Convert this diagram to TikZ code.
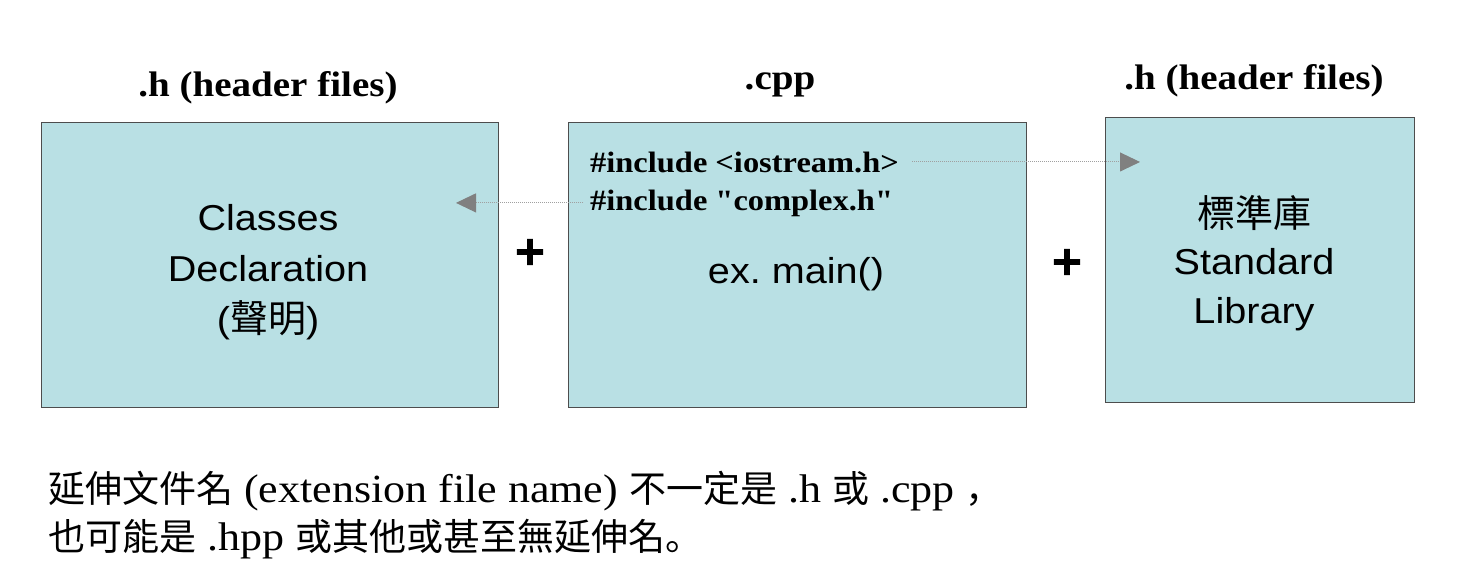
\documentclass[tikz,border=0pt]{standalone}
\usepackage{fontspec}
\usetikzlibrary{arrows.meta}
\setmainfont{Liberation Serif}[FakeStretch=1.1]
\newfontfamily\incf{Liberation Serif}[FakeStretch=1.1, Ligatures=TeXOff]
\newfontfamily\sansf{Liberation Sans}[FakeStretch=1.1]
\newfontfamily\cjk{Noto Sans CJK TC}
\newfontfamily\cjkp{Noto Sans CJK SC}
\newfontfamily\plusf{DejaVu Sans Bold}[FakeBold=2.5]
\definecolor{boxfill}{HTML}{B9E0E4}
\definecolor{boxline}{HTML}{4D4D4D}
\definecolor{dotgray}{HTML}{A0A0A0}
\definecolor{tipgray}{HTML}{808080}
\tikzset{
  filebox/.style={draw=boxline, line width=1.4pt, fill=boxfill, anchor=north west, inner sep=0pt},
  title/.style={anchor=base, inner sep=0pt, font=\fontsize{35.5}{40}\selectfont\bfseries},
  boxtxt/.style={anchor=base, inner sep=0pt, font=\sansf\fontsize{36}{40}\selectfont},
  cjkbox/.style={anchor=base, inner sep=0pt, font=\cjk\fontsize{38}{40}\selectfont},
  inctxt/.style={anchor=base west, inner sep=0pt, font=\incf\fontsize{29.5}{34}\selectfont\bfseries},
  plussign/.style={inner sep=0pt, font=\plusf\fontsize{40}{40}\selectfont},
  note/.style={anchor=base west, inner sep=0pt, font=\fontsize{40}{46}\selectfont},
  conn/.style={draw=dotgray, line width=1pt, dash pattern=on 1pt off 1pt,
    -{Triangle[length=20pt, width=19pt, color=tipgray]}},
}
\newcommand{\cj}[1]{{\cjk\fontsize{37}{46}\selectfont #1}}
\newcommand{\cjp}[1]{{\cjkp\fontsize{37}{46}\selectfont #1}}
\begin{document}
\frenchspacing
\begin{tikzpicture}[x=1pt, y=-1pt]
\useasboundingbox (0,0) rectangle (1484,578);

% boxes
\node[filebox, minimum width=457pt, minimum height=285pt] (hbox) at (41,122) {};
\node[filebox, minimum width=458pt, minimum height=285pt] (cbox) at (568,122) {};
\node[filebox, minimum width=309pt, minimum height=285pt] (lbox) at (1105,117) {};

% titles
\node[title] (t1) at (268,96) {.h (header files)};
\node[title] (t2) at (780,90) {.cpp};
\node[title] (t3) at (1254,90) {.h (header files)};

% left box text
\node[boxtxt] (l1) at (268,230) {Classes};
\node[boxtxt] (l2) at (268,281) {Declaration};
\node[boxtxt] (l3) at (268,332) {({\cjk\fontsize{38}{40}\selectfont 聲明})};

% middle box text
\node[inctxt] (inc1) at (590,172) {\#include <iostream.h>};
\node[inctxt] (inc2) at (590,210) {\#include "complex.h"};
\node[boxtxt] (m1) at (796,283) {ex. main()};

% right box text
\node[cjkbox] (r1) at (1254,227) {標準庫};
\node[boxtxt] (r2) at (1254,274) {Standard};
\node[boxtxt] (r3) at (1254,323) {Library};

% plus signs
\node[plussign] (p1) at (530,252) {+};
\node[plussign] (p2) at (1067,262) {+};

% connectors
\coordinate (lt) at (456,0);
\coordinate (rt) at (1140,0);
\draw[conn] ([xshift=-7pt]inc2.west) -- (inc2.west -| lt);
\draw[conn] ([xshift=13pt]inc1.east) -- (inc1.east -| rt);

% bottom note
\node[note] (n1) at (48,502) {\cj{延伸文件名} (extension file name) \cj{不一定是} .h \cj{或} .cpp \cjp{，}};
\node[note] (n2) at (48,550) {\cj{也可能是} .hpp \cj{或其他或甚至無延伸名}\cjp{。}};
\end{tikzpicture}
\end{document}
